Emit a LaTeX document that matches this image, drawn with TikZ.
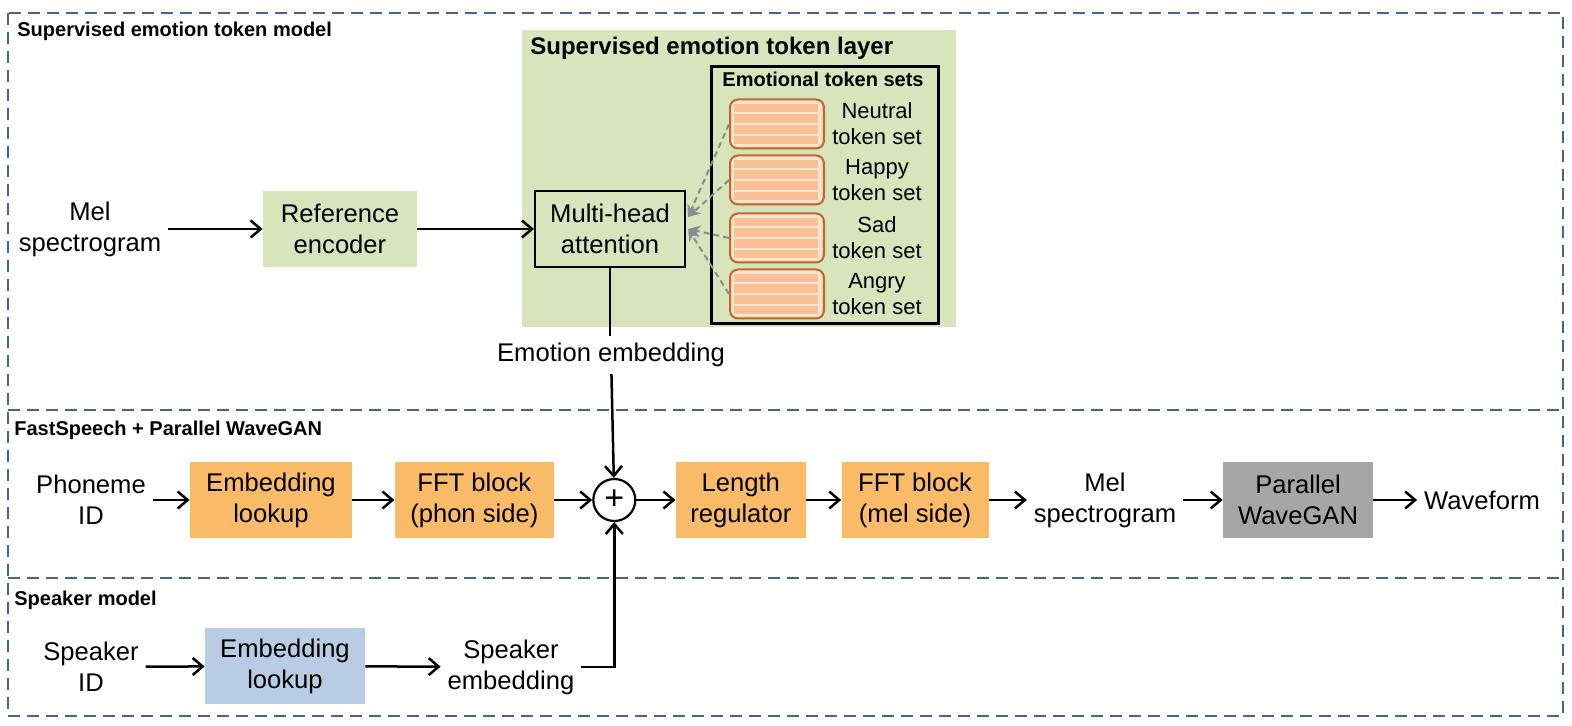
\documentclass[tikz,border=0pt]{standalone}
\usepackage{fontspec}
\setmainfont{Liberation Sans}
\usepackage{tikz}
\usetikzlibrary{positioning, arrows.meta}
\definecolor{regionblue}{RGB}{68,101,143}
\definecolor{layergreen}{RGB}{216,228,188}
\definecolor{fsorange}{RGB}{250,187,105}
\definecolor{spkblue}{RGB}{184,204,228}
\definecolor{vocgray}{RGB}{166,166,166}
\definecolor{tokfill}{RGB}{248,192,150}
\definecolor{tokedge}{RGB}{192,104,40}
\definecolor{tokline}{RGB}{251,228,206}
\definecolor{attngray}{RGB}{140,140,140}
\tikzset{
flow/.style={-{Straight Barb[length=5pt,width=8.5pt]}, line width=1.25pt}, % arrows of the main data path
attn/.style={-{Stealth[length=6pt,width=6pt]}, dash pattern=on 3pt off 2pt, attngray, line width=1pt}, % token sets into the attention
region/.style={regionblue, line width=1.25pt, dash pattern=on 6pt off 3.5pt}, % dashed model frames
txt/.style={align=center, font=\fontsize{12.8}{15.5}\selectfont}, % plain inputs and outputs
block/.style={txt, minimum height=38pt, inner sep=0pt}, % processing boxes
secttl/.style={font=\fontsize{10}{12}\selectfont\bfseries, anchor=base west, inner sep=0pt}, % frame titles
tokset/.style={draw=tokedge, fill=tokfill, line width=1pt, rounded corners=4pt,
  minimum width=47pt, minimum height=24.5pt, inner sep=0pt,
  path picture={
    \draw[sharp corners, tokline, line width=1.6pt] ([shift={(1.3pt,-1.3pt)}]path picture bounding box.north west) rectangle ([shift={(-2pt,1.3pt)}]path picture bounding box.south east);
    \foreach \k in {-5.5,0,5.5}
      \draw[sharp corners, tokline, line width=0.8pt] ([yshift=\k pt]path picture bounding box.west) -- ([yshift=\k pt]path picture bounding box.east);
  }}, % one emotional token set
toklabel/.style={align=center, font=\fontsize{11}{13}\selectfont}, % names of the token sets
}

\begin{document}
\begin{tikzpicture}[x=0.5pt, y=-0.5pt]
\useasboundingbox (0,0) rectangle (1572,726);

% frames
\draw[region] (8,13) rectangle (1563,716);
\draw[region] (8,410) -- (1563,410);
\draw[region] (8,578) -- (1563,578);
\node[secttl] (ttop) at (17,37) {Supervised emotion token model};
\node[secttl] (tmid) at (14,436) {FastSpeech + Parallel WaveGAN};
\node[secttl] (tbot) at (14,605) {Speaker model};

% emotion token layer
\fill[layergreen] (522,30) rectangle (956,327);
\node[secttl, font=\fontsize{12}{14}\selectfont\bfseries] (tlayer) at (530,55) {Supervised emotion token layer};
\draw[line width=1.5pt] (711,67) rectangle (938,324);
\node[secttl, anchor=base] (tsets) at (823,87) {Emotional token sets};
\foreach \emo/\yc [count=\i] in {Neutral/124, Happy/180, Sad/238, Angry/294}{
  \node[tokset] (tok\i) at (777,\yc) {};
  \node[toklabel] (lab\i) at (877,\yc) {\emo\\token set};
}

% top row
\node[txt] (melin) at (90,229) {Mel\\spectrogram};
\node[block, fill=layergreen, minimum width=77pt] (ref) at (340,229) {Reference\\encoder};
\node[block, draw, line width=1.1pt, minimum width=75pt] (mha) at (610,229) {Multi-head\\attention};
\node[txt] (emoemb) at (611,355) {Emotion embedding};

% middle row
\node[txt] (phon) at (91,500) {Phoneme\\ID};
\node[block, fill=fsorange, minimum width=81pt] (embl) at (271,500) {Embedding\\lookup};
\node[block, fill=fsorange, minimum width=79.5pt, right=21pt of embl] (fftp) {FFT block\\(phon side)};
\node[draw, circle, line width=1.1pt, minimum size=21pt, inner sep=0pt,
  font=\fontsize{17}{17}\selectfont, right=19pt of fftp] (plus) {+};
\node[block, fill=fsorange, minimum width=65pt, right=19.5pt of plus] (lenreg) {Length\\regulator};
\node[block, fill=fsorange, minimum width=73.5pt, right=17.5pt of lenreg] (fftm) {FFT block\\(mel side)};
\node[txt] (melout) at (1105,500) {Mel\\spectrogram};
\node[block, fill=vocgray, minimum width=75pt] (pwg) at (1298,500) {Parallel\\WaveGAN};
\node[txt] (wave) at (1482,500) {Waveform};

% bottom row
\node[txt] (spk) at (91,667) {Speaker\\ID};
\node[block, fill=spkblue, minimum width=80pt] (embs) at (285,666) {Embedding\\lookup};
\node[txt] (spkemb) at (511,667) {Speaker\\embedding};

\draw[flow] (melin) -- (ref);
\draw[flow] (ref) -- (mha);
\draw[attn] (tok1.west) -- ([xshift=1pt,yshift=6pt]mha.east);
\draw[attn] (tok2.west) -- ([xshift=1pt,yshift=6pt]mha.east);
\draw[attn] (tok3.west) -- ([xshift=1pt]mha.east);
\draw[attn] (tok4.west) -- ([xshift=1pt]mha.east);
\draw[line width=1.25pt] (mha.south) -- (mha.south |- emoemb.north);
\draw[flow] (emoemb) -- (plus);
\draw[flow] (phon) -- (embl);
\draw[flow] (embl) -- (fftp);
\draw[flow] (fftp) -- (plus);
\draw[flow] (plus) -- (lenreg);
\draw[flow] (lenreg) -- (fftm);
\draw[flow] (fftm) -- (melout);
\draw[flow] (melout) -- (pwg);
\draw[flow] (pwg) -- (wave);
\draw[flow] (spk) -- (embs);
\draw[flow] (embs) -- (spkemb);
\draw[flow] (spkemb.east) -| (plus.south);
\end{tikzpicture}
\end{document}
